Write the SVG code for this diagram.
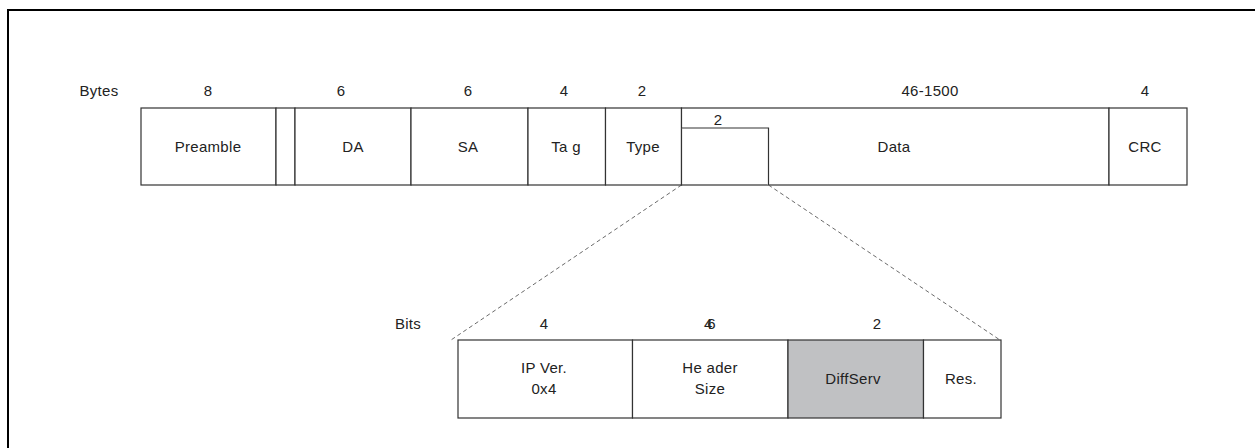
<svg xmlns="http://www.w3.org/2000/svg" width="1255" height="448" viewBox="0 0 1255 448">
<style>
.box{fill:#fff;stroke:#333;stroke-width:1.2}
.t{font-family:"Liberation Sans",Arial,sans-serif;font-size:15px;fill:#222;text-anchor:middle;letter-spacing:0.3px}
.dash{stroke:#444;stroke-width:0.8;stroke-dasharray:4,3;fill:none}
</style>
<rect width="1255" height="448" fill="#fff"/>
<path d="M8,448 V10 H1255" fill="none" stroke="#000" stroke-width="2"/>
<g id="byte-sizes">
<text class="t" x="99" y="96">Bytes</text>
<text class="t" x="208" y="96">8</text>
<text class="t" x="341" y="96">6</text>
<text class="t" x="468" y="96">6</text>
<text class="t" x="564" y="96">4</text>
<text class="t" x="642" y="96">2</text>
<text class="t" x="930" y="96">46-1500</text>
<text class="t" x="1145" y="96">4</text>
</g>
<g id="preamble"><rect class="box" x="141" y="108" width="135" height="77"/><text class="t" x="208" y="152">Preamble</text></g>
<g id="sfd"><rect class="box" x="276" y="108" width="19" height="77"/></g>
<g id="da"><rect class="box" x="295" y="108" width="116" height="77"/><text class="t" x="353" y="152">DA</text></g>
<g id="sa"><rect class="box" x="411" y="108" width="117" height="77"/><text class="t" x="468" y="152">SA</text></g>
<g id="tag"><rect class="box" x="528" y="108" width="77.5" height="77"/><text class="t" x="566" y="152">Ta g</text></g>
<g id="type"><rect class="box" x="605.5" y="108" width="76" height="77"/><text class="t" x="643" y="152">Type</text></g>
<g id="data"><rect class="box" x="681.5" y="108" width="427.5" height="77"/><text class="t" x="894" y="152">Data</text></g>
<g id="tos"><path class="box" d="M681.5,128 H768.5 V185" fill="none"/><text class="t" x="718" y="125">2</text></g>
<g id="crc"><rect class="box" x="1109" y="108" width="78" height="77"/><text class="t" x="1145" y="152">CRC</text></g>
<g id="connectors">
<line class="dash" x1="681.5" y1="185" x2="451" y2="340"/>
<line class="dash" x1="768.5" y1="185" x2="1000" y2="340"/>
</g>
<g id="bit-sizes">
<text class="t" x="408" y="329">Bits</text>
<text class="t" x="544" y="329">4</text>
<text class="t" x="710" y="329">4<tspan dx="-5.5">6</tspan></text>
<text class="t" x="877" y="329">2</text>
</g>
<g id="ipver"><rect class="box" x="458" y="340" width="174.5" height="78"/><text class="t" x="544" y="373">IP Ver.</text><text class="t" x="544" y="394">0x4</text></g>
<g id="hdrsize"><rect class="box" x="632.5" y="340" width="155.5" height="78"/><text class="t" x="710" y="373">He ader</text><text class="t" x="710" y="394">Size</text></g>
<g id="diffserv"><rect class="box" x="788" y="340" width="135.5" height="78" style="fill:#c0c1c3"/><text class="t" x="853" y="384">DiffServ</text></g>
<g id="res"><rect class="box" x="923.5" y="340" width="77.5" height="78"/><text class="t" x="961" y="384">Res.</text></g>
</svg>
